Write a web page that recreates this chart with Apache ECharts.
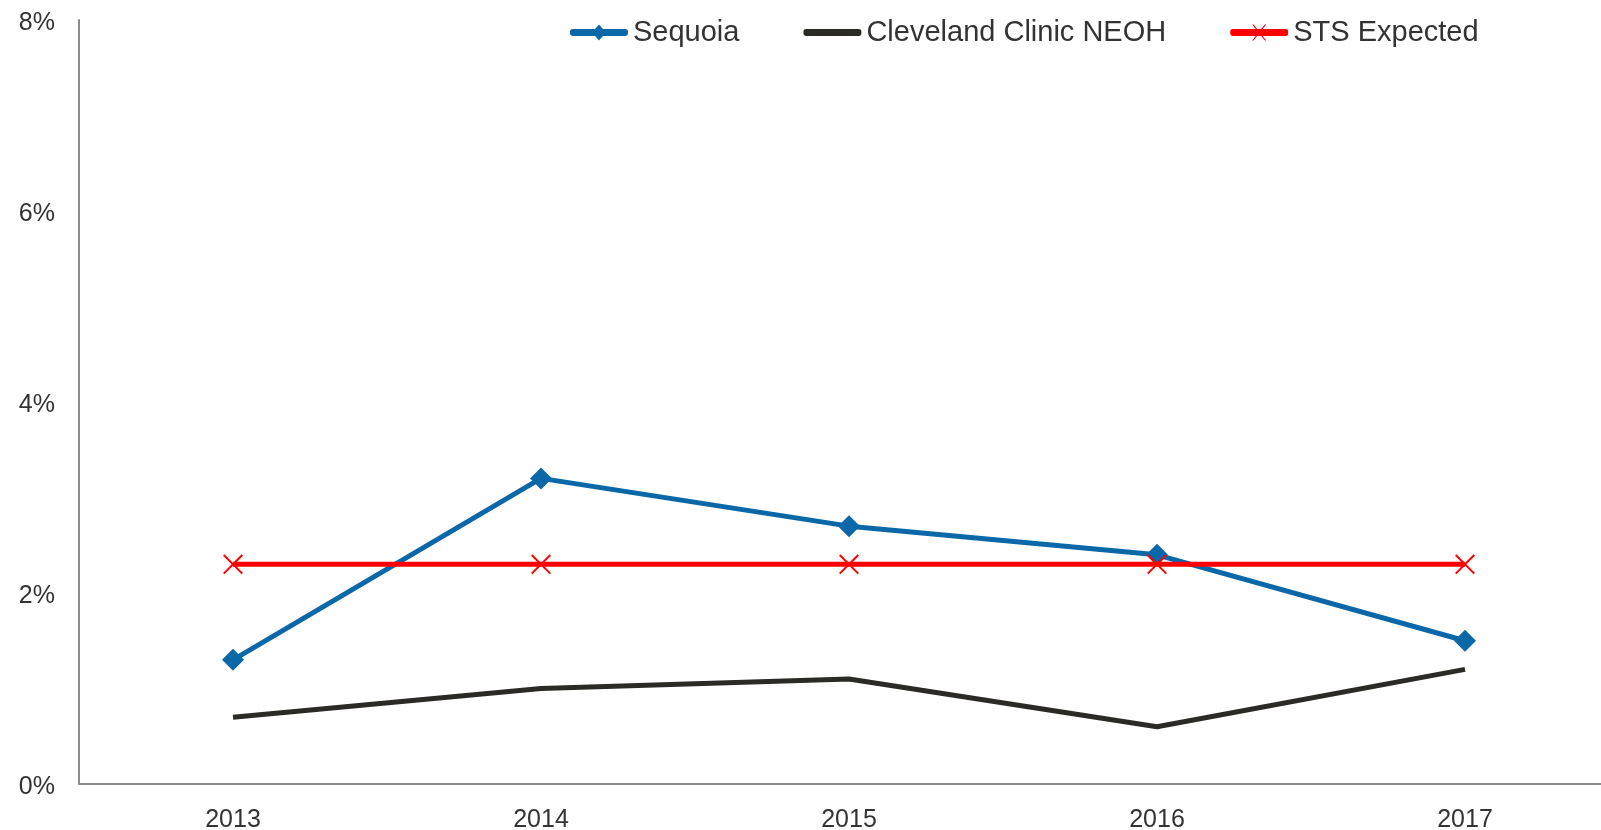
<!DOCTYPE html>
<html>
<head>
<meta charset="utf-8">
<script src="https://cdn.jsdelivr.net/npm/echarts@6/dist/echarts.min.js"></script>
<style>
html,body{margin:0;padding:0;background:#fff;}
#c{width:1601px;height:830px;}
</style>
</head>
<body>
<div id="c"></div>
<script>
const categories = ['2013', '2014', '2015', '2016', '2017'];
const sequoia = [1.3, 3.2, 2.7, 2.4, 1.5];
const cleveland = [0.7, 1.0, 1.1, 0.6, 1.2];
const stsExpected = [2.3, 2.3, 2.3, 2.3, 2.3];
const seriesNames = ['Sequoia', 'Cleveland Clinic NEOH', 'STS Expected'];

const FONT = '"Liberation Sans", Arial, sans-serif';
const xPath = 'path://M0,0.7L0.7,0L10,9.3L9.3,10Z M9.3,0L10,0.7L0.7,10L0,9.3Z';

// legend icons (box 58 x 16)
const bar = 'M3,4.5L55,4.5Q58.5,4.5 58,8Q58.5,11.5 55,11.5L3,11.5Q-0.5,11.5 0,8Q-0.5,4.5 3,4.5Z';
const corners = 'M0,0L0.01,0L0,0.01Z M58,16L57.99,16L58,15.99Z';
const iconSeq = 'path://' + bar + ' M29,0L36,8L29,16L22,8Z ' + corners;
const iconCle = 'path://' + bar + ' ' + corners;
const iconSts = 'path://' + bar + ' M22,0L23.4,0L36,16L34.6,16Z M34.6,0L36,0L23.4,16L22,16Z ' + corners;

const chart = echarts.init(document.getElementById('c'), null, {renderer: 'canvas'});
chart.setOption({
  animation: false,
  backgroundColor: '#fff',
  textStyle: {fontFamily: FONT},
  legend: {
    top: 13,
    left: 565,
    itemWidth: 58,
    itemHeight: 16,
    itemGap: 64,
    data: [
      {name: seriesNames[0], icon: iconSeq},
      {name: seriesNames[1], icon: iconCle},
      {name: seriesNames[2], icon: iconSts}
    ],
    textStyle: {fontSize: 29, color: '#333', fontFamily: FONT}
  },
  grid: {
    left: 79,
    top: 20,
    bottom: 46,
    width: 1540,
    outerBoundsMode: 'none',
    containLabel: false
  },
  xAxis: {
    type: 'category',
    data: categories,
    boundaryGap: true,
    axisLine: {lineStyle: {color: '#8c8c8c', width: 2}},
    axisTick: {show: false},
    axisLabel: {fontSize: 25, color: '#333', margin: 24, fontFamily: FONT},
    splitLine: {show: false}
  },
  yAxis: {
    type: 'value',
    min: 0,
    max: 8,
    interval: 2,
    axisLine: {show: true, lineStyle: {color: '#8c8c8c', width: 2}},
    axisTick: {show: false},
    splitLine: {show: false},
    axisLabel: {
      margin: 24,
      formatter: function (v) { return '{t|' + v + '%}'; },
      rich: {t: {fontSize: 25, color: '#333', fontFamily: FONT, padding: [6, 0, 0, 0]}}
    }
  },
  series: [
    {
      name: seriesNames[0],
      type: 'line',
      data: sequoia,
      symbol: 'diamond',
      symbolSize: 22,
      lineStyle: {color: '#0a67a8', width: 5},
      itemStyle: {color: '#0a67a8'},
      z: 3
    },
    {
      name: seriesNames[1],
      type: 'line',
      data: cleveland,
      symbol: 'none',
      lineStyle: {color: '#2b2a26', width: 5},
      itemStyle: {color: '#2b2a26'},
      z: 2
    },
    {
      name: seriesNames[2],
      type: 'line',
      data: stsExpected,
      symbol: xPath,
      symbolSize: 20,
      lineStyle: {color: '#ff0000', width: 5},
      itemStyle: {color: '#ff0000'},
      z: 4
    }
  ]
});
</script>
</body>
</html>
